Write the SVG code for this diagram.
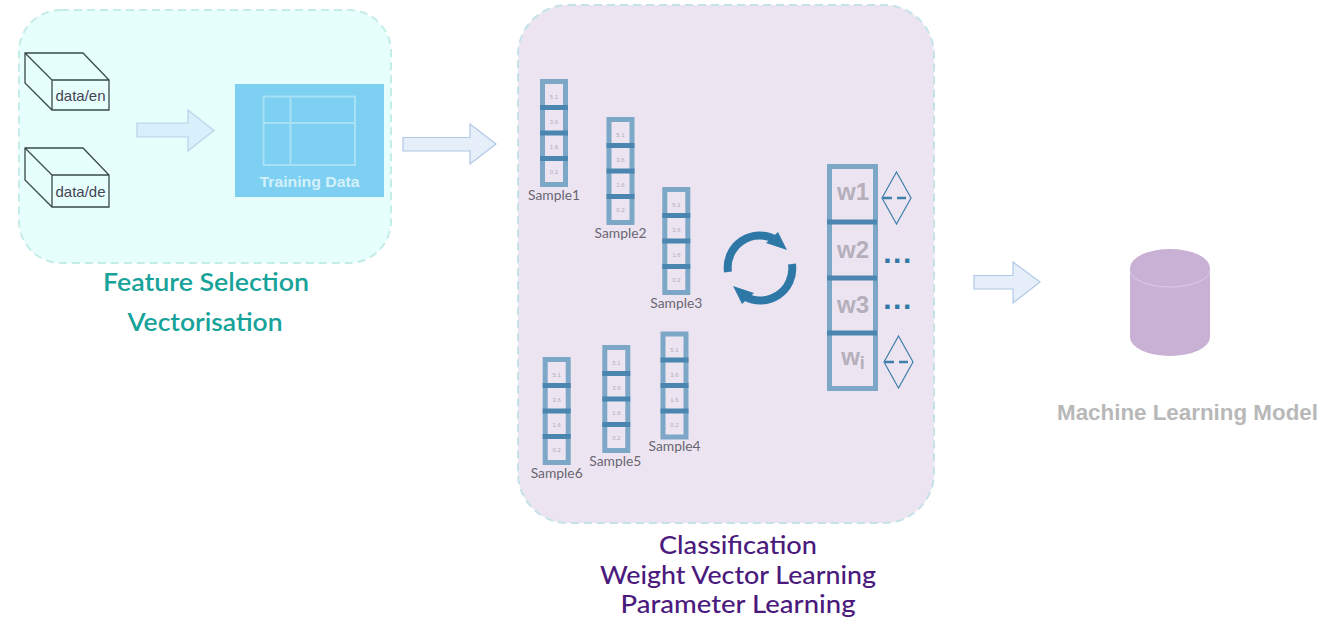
<svg xmlns="http://www.w3.org/2000/svg" width="1334" height="630" viewBox="0 0 1334 630">
<style>
.panel1{fill:#e6fffd;stroke:#c4ece8;stroke-width:2;stroke-dasharray:8 5}
.panel2{fill:#ece5f1;stroke:#c5e2e8;stroke-width:2;stroke-dasharray:8 5}
.cube{fill:none;stroke:#3a4a48;stroke-width:1.3}
.cubet{font:15px "Liberation Sans",Arial,sans-serif;fill:#445;text-anchor:middle}
.arrow{fill:#d8f0fb;stroke:#b8d4ea;stroke-width:1.2}
.arrow2{fill:#e6eefa;stroke:#b0c8e6;stroke-width:1.2}
.vbox{fill:none;stroke:#7da7c6;stroke-width:5}
.div{stroke:#4a86b0;stroke-width:5}
.val{font:6px "Liberation Sans",Arial,sans-serif;fill:#b3aab8;text-anchor:middle}
.slabel{font:13px Lato,"Noto Sans",sans-serif;fill:#6a6572;text-anchor:middle}
.w{font:bold 24px "Liberation Sans",Arial,sans-serif;fill:#b5aebb;text-anchor:middle}
.dots{font:bold 30px "Liberation Sans",Arial,sans-serif;fill:#2f78a8;text-anchor:middle;letter-spacing:1.500px}
.dia{fill:none;stroke:#3f7fab;stroke-width:1.2}
.dash{stroke:#3f7fab;stroke-width:2.500;stroke-dasharray:9 5}
.teal{font:600 24px Lato,"Noto Sans",sans-serif;fill:#17a39a;text-anchor:middle}
.purple{font:500 25px Lato,"Noto Sans",sans-serif;fill:#4b1a7d;text-anchor:middle}
</style>
<defs>
<g id="vec">
<rect class="vbox" x="2.500" y="2.500" width="23" height="103"/>
<path class="div" d="M0 28.500H28M0 54H28M0 79.500H28"/>
</g>
</defs>

<g id="panel-features"><rect class="panel1" x="19" y="10" width="372" height="253" rx="42"/></g>
<g id="panel-classification"><rect class="panel2" x="518" y="5" width="416" height="518" rx="50"/></g>

<g id="connectors">
<path class="arrow" d="M137 123H188V110L214 130.500L188 151V137H137Z"/>
<path class="arrow2" d="M403 137.500H470V124L496 144L470 164V151H403Z"/>
<path class="arrow2" d="M974 275.500H1013V262L1040 282L1013 303V289H974Z"/>
</g>

<g id="data-en">
<path class="cube" d="M25 53H83L109 80V110H52L25 83ZM25 53L52 80V110M52 80H109"/>
<text class="cubet" x="80.500" y="101">data/en</text>
</g>
<g id="data-de">
<path class="cube" d="M25 148H83L109 175V207H52L25 180ZM25 148L52 175V207M52 175H109"/>
<text class="cubet" x="80.500" y="197">data/de</text>
</g>

<g id="training-data">
<rect x="235" y="84" width="149" height="113" fill="#7dd0f1"/>
<path d="M263.500 96.500H355V165H263.500ZM290.500 96.500V165M263.500 123H355" fill="none" stroke="#a8e0f5" stroke-width="2"/>
<text x="309.500" y="187" font-family="Liberation Sans, Arial, sans-serif" font-weight="700" font-size="15" fill="#d4f1fb" text-anchor="middle" textLength="100" lengthAdjust="spacingAndGlyphs">Training Data</text>
</g>

<g id="sample1" transform="translate(540 79)"><use href="#vec"/>
<text class="val" x="14" y="20">5.1</text><text class="val" x="14" y="45">3.6</text><text class="val" x="14" y="70">1.6</text><text class="val" x="14" y="95">0.2</text>
<text class="slabel" x="14" y="121" textLength="52" lengthAdjust="spacingAndGlyphs">Sample1</text></g>
<g id="sample2" transform="translate(606.500 117)"><use href="#vec"/>
<text class="val" x="14" y="20">5.1</text><text class="val" x="14" y="45">3.6</text><text class="val" x="14" y="70">1.6</text><text class="val" x="14" y="95">0.2</text>
<text class="slabel" x="14" y="121" textLength="52" lengthAdjust="spacingAndGlyphs">Sample2</text></g>
<g id="sample3" transform="translate(662.300 187)"><use href="#vec"/>
<text class="val" x="14" y="20">5.1</text><text class="val" x="14" y="45">3.6</text><text class="val" x="14" y="70">1.6</text><text class="val" x="14" y="95">0.2</text>
<text class="slabel" x="14" y="121" textLength="52" lengthAdjust="spacingAndGlyphs">Sample3</text></g>
<g id="sample4" transform="translate(660.500 331.500)"><use href="#vec"/>
<text class="val" x="14" y="20">5.1</text><text class="val" x="14" y="45">3.6</text><text class="val" x="14" y="70">1.6</text><text class="val" x="14" y="95">0.2</text>
<text class="slabel" x="14" y="119" textLength="52" lengthAdjust="spacingAndGlyphs">Sample4</text></g>
<g id="sample5" transform="translate(602.300 345)"><use href="#vec"/>
<text class="val" x="14" y="20">5.1</text><text class="val" x="14" y="45">3.6</text><text class="val" x="14" y="70">1.6</text><text class="val" x="14" y="95">0.2</text>
<text class="slabel" x="13" y="121" textLength="52" lengthAdjust="spacingAndGlyphs">Sample5</text></g>
<g id="sample6" transform="translate(542.700 357)"><use href="#vec"/>
<text class="val" x="14" y="20">5.1</text><text class="val" x="14" y="45">3.6</text><text class="val" x="14" y="70">1.6</text><text class="val" x="14" y="95">0.2</text>
<text class="slabel" x="14" y="121" textLength="52" lengthAdjust="spacingAndGlyphs">Sample6</text></g>

<g id="sync" fill="#2e78a8">
<path d="M728 272A32 32 0 0 1 776 240" fill="none" stroke="#2e78a8" stroke-width="8"/>
<path d="M778 232L787 250L766 243Z"/>
<path d="M792 264A32 32 0 0 1 744 296" fill="none" stroke="#2e78a8" stroke-width="8"/>
<path d="M742 304L733 286L754 293Z"/>
</g>

<g id="weights">
<rect class="vbox" x="829.500" y="166.500" width="46" height="222"/>
<path class="div" d="M827 222H877M827 278H877M827 333H877"/>
<text class="w" x="853" y="200">w1</text>
<text class="w" x="853" y="258">w2</text>
<text class="w" x="853" y="313">w3</text>
<text class="w" x="853" y="365">w<tspan font-size="18" dy="4">i</tspan></text>
<text class="dots" x="898" y="263">...</text>
<text class="dots" x="898" y="309">...</text>
</g>
<g id="diamond-top">
<path class="dia" d="M896.500 172L911 198L896.500 224L882 198Z"/>
<path class="dash" d="M883 198H911"/>
</g>
<g id="diamond-bottom">
<path class="dia" d="M898.500 336L913 362L898.500 388L884 362Z"/>
<path class="dash" d="M885 362H913"/>
</g>

<g id="model">
<path d="M1130 268A40 19 0 0 1 1210 268V337A40 19 0 0 1 1130 337Z" fill="#c9b1d5"/>
<path d="M1130 270A40 17 0 0 0 1210 270" fill="none" stroke="#dccbe4" stroke-width="1"/>
<text x="1187.500" y="420" font-family="Liberation Sans, Arial, sans-serif" font-weight="700" font-size="21.500" fill="#b8b8b8" text-anchor="middle" textLength="261" lengthAdjust="spacingAndGlyphs">Machine Learning Model</text>
</g>

<g id="labels">
<text class="teal" x="206" y="291" textLength="206" lengthAdjust="spacingAndGlyphs">Feature Selection</text>
<text class="teal" x="205" y="331" textLength="155" lengthAdjust="spacingAndGlyphs">Vectorisation</text>
<text class="purple" x="738" y="554" textLength="158" lengthAdjust="spacingAndGlyphs">Classification</text>
<text class="purple" x="738" y="584" textLength="276" lengthAdjust="spacingAndGlyphs">Weight Vector Learning</text>
<text class="purple" x="738" y="613" textLength="235" lengthAdjust="spacingAndGlyphs">Parameter Learning</text>
</g>
</svg>
